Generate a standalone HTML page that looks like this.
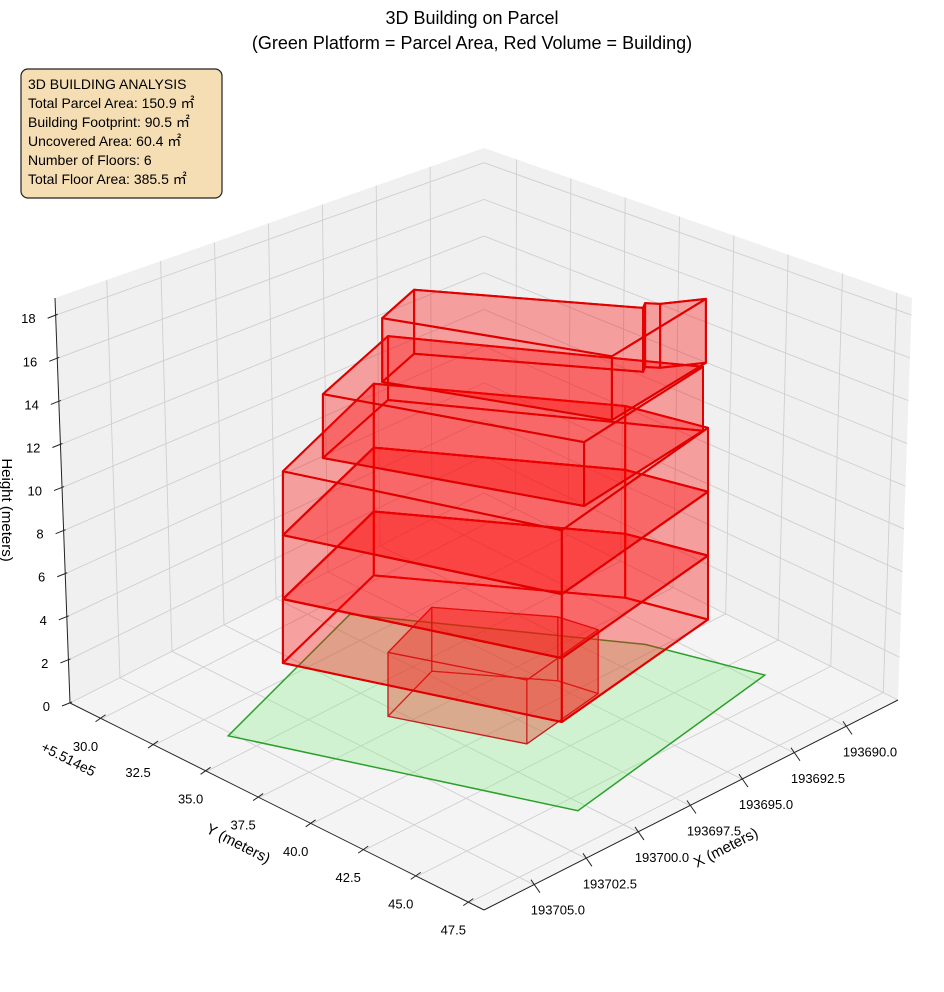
<!DOCTYPE html>
<html><head><meta charset="utf-8"><style>
html,body{margin:0;padding:0;background:#fff;}
svg{display:block;font-family:"Liberation Sans",sans-serif;}
</style></head><body>
<svg id="chart" width="944" height="992" viewBox="0 0 944 992" xmlns="http://www.w3.org/2000/svg">
<g id="panes"></g>
<g id="grid"></g>
<g id="axes"></g>
<g id="marks"></g>
<text x="472" y="24" text-anchor="middle" font-size="18">3D Building on Parcel</text>
<text x="472" y="49" text-anchor="middle" font-size="18">(Green Platform = Parcel Area, Red Volume = Building)</text>
<g>
<rect x="21" y="69" width="201" height="129" rx="7" fill="#f5deb3" stroke="#222" stroke-width="1.2"/>
<text font-size="14" fill="#000">
<tspan x="28" y="89">3D BUILDING ANALYSIS</tspan>
<tspan x="28" y="108">Total Parcel Area: 150.9 ㎡</tspan>
<tspan x="28" y="127">Building Footprint: 90.5 ㎡</tspan>
<tspan x="28" y="146">Uncovered Area: 60.4 ㎡</tspan>
<tspan x="28" y="165">Number of Floors: 6</tspan>
<tspan x="28" y="184">Total Floor Area: 385.5 ㎡</tspan>
</text>
</g>
<text x="0" y="0" font-size="15" transform="translate(728,852) rotate(-27)" text-anchor="middle">X (meters)</text>
<text x="0" y="0" font-size="15" transform="translate(236,848) rotate(27)" text-anchor="middle">Y (meters)</text>
<text x="0" y="0" font-size="15" transform="translate(2,510) rotate(90)" text-anchor="middle">Height (meters)</text>
<text x="0" y="0" font-size="14" transform="translate(40,750) rotate(27)">+5.514e5</text>
</svg>
<script>
// ---- data ----
const xTicks = [193690.0, 193692.5, 193695.0, 193697.5, 193700.0, 193702.5, 193705.0];
const yTicks = [30.0, 32.5, 35.0, 37.5, 40.0, 42.5, 45.0, 47.5];
const zTicks = [0, 2, 4, 6, 8, 10, 12, 14, 16, 18];
const parcelX = [193705.19, 193696.49, 193690.88, 193689.49, 193700.42];
const parcelY = [33.84, 31.02, 39.51, 43.83, 45.76];
const floor1X = [193700.45, 193697.25, 193694.70, 193694.35, 193698.45];
const floor1Y = [36.75, 35.67, 39.14, 40.71, 41.38];
const midX = [193703.46, 193697.11, 193692.18, 193691.24, 193699.62];
const midY = [34.73, 32.77, 39.85, 42.86, 44.20];
const floor5X = [193701.87, 193697.55, 193691.50, 193697.93];
const floor5Y = [35.06, 33.88, 42.88, 43.59];
const floor6X = [193699.88, 193697.77, 193693.17, 193692.89, 193692.57, 193691.24, 193696.22];
const floor6Y = [35.91, 35.34, 41.68, 41.50, 41.90, 42.76, 43.22];
const floorBase = [0, 3, 6, 9, 12, 15];
const floorTop = [3, 6, 9, 12, 15, 18];

// ---- axes geometry ----
const XMIN = 193687.5, XMAX = 193707.4, YMIN = 28.5, YMAX = 48.2, ZMAX = 18.8;
const B0=[484,493], L0=[70,703], R0=[898,700], F0=[484,910], BT=[484,148], LT=[55,298], RT=[912,298];
const NS='http://www.w3.org/2000/svg';
function lerp(p,q,t){return [p[0]+(q[0]-p[0])*t, p[1]+(q[1]-p[1])*t];}
function fx(x){return (x-XMIN)/(XMAX-XMIN);}
function fy(y){return (y-YMIN)/(YMAX-YMIN);}
function fz(z){return z/ZMAX;}
function proj(x,y,z){const a=fx(x), b=fy(y);
  return [B0[0]-414*a+414*b, B0[1]+210*a+207*b-21.3*z];}
function mk(tag,attrs,parent){const e=document.createElementNS(NS,tag);for(const k in attrs)e.setAttribute(k,attrs[k]);parent.appendChild(e);return e;}
function pts(arr){return arr.map(p=>p[0].toFixed(1)+','+p[1].toFixed(1)).join(' ');}

const panes=document.getElementById('panes'), grid=document.getElementById('grid'), axes=document.getElementById('axes'), marks=document.getElementById('marks');
let e;
e=mk('polygon',{points:pts([L0,B0,BT,LT]),fill:'#f0f0f0'},panes);


e=mk('polygon',{points:pts([B0,R0,RT,BT]),fill:'#f0f0f0'},panes);


e=mk('polygon',{points:pts([L0,B0,R0,F0]),fill:'#f4f4f4'},panes);



const gs={stroke:'#cfcfcf','stroke-width':0.9,fill:'none'};
function line(p,q,parent,st){return mk('line',Object.assign({x1:p[0],y1:p[1],x2:q[0],y2:q[1]},st),parent);}
xTicks.forEach(v=>{const t=fx(v);
  e=line(lerp(B0,L0,t),lerp(R0,F0,t),grid,gs);
  
  
  e=line(lerp(B0,L0,t),lerp(BT,LT,t),grid,gs);
  
  
});
yTicks.forEach(v=>{const t=fy(v);
  e=line(lerp(B0,R0,t),lerp(L0,F0,t),grid,gs);
  
  
  e=line(lerp(B0,R0,t),lerp(BT,RT,t),grid,gs);
  
  
});
zTicks.forEach(v=>{const t=fz(v);
  e=line(lerp(L0,LT,t),lerp(B0,BT,t),grid,gs);
  
  
  e=line(lerp(B0,BT,t),lerp(R0,RT,t),grid,gs);
  
  
});

const as={stroke:'#222','stroke-width':1};
e=line(R0,F0,axes,as);  
e=line(L0,F0,axes,as);  
e=line(L0,LT,axes,as);  

xTicks.forEach(v=>{const p=lerp(R0,F0,fx(v));
  e=line([p[0]-3,p[1]-5],[p[0]+6,p[1]+8],axes,as);
  
  
  e=mk('text',{x:p[0]+24,y:p[1]+30,'font-size':13,'text-anchor':'middle'},axes);
  e.textContent=v.toFixed(1);
  
  
});
yTicks.forEach(v=>{const p=lerp(L0,F0,fy(v));
  e=line([p[0]+4,p[1]-4],[p[0]-6,p[1]+3],axes,as);
  
  
  e=mk('text',{x:p[0]-16,y:p[1]+32,'font-size':13,'text-anchor':'middle'},axes);
  e.textContent=v.toFixed(1);
  
  
});
zTicks.forEach(v=>{const p=lerp(L0,LT,fz(v));
  e=line([p[0]+2,p[1]-1],[p[0]-8,p[1]+3],axes,as);
  
  
  e=mk('text',{x:p[0]-20,y:p[1]+8,'font-size':13,'text-anchor':'end'},axes);
  e.textContent=String(v);
  
  
});

e=mk('polygon',{points:pts(parcelX.map((x,i)=>proj(x,parcelY[i],0))),fill:'rgba(144,238,144,0.35)',stroke:'#2ca02c','stroke-width':1.5},marks);



const footX=[floor1X,midX,midX,midX,floor5X,floor6X];
const footY=[floor1Y,midY,midY,midY,floor5Y,floor6Y];
floorBase.forEach((z0,k)=>{
  const z1=floorTop[k], xs=footX[k], ys=footY[k];
  const g=mk('g',{},marks);
  
  
  const col=k===0?'#c82020':'#e00000', sw=k===0?1.2:2;
  const fill=k===0?'rgba(230,60,40,0.22)':'rgba(255,0,0,0.19)';
  const bot=xs.map((x,i)=>proj(x,ys[i],z0)), top=xs.map((x,i)=>proj(x,ys[i],z1));
  e=mk('polygon',{points:pts(bot),fill:fill,stroke:col,'stroke-width':sw,'stroke-linejoin':'round'},g);
  
  
  for(let i=0;i<xs.length;i++){const j=(i+1)%xs.length;
    e=mk('polygon',{points:pts([bot[i],bot[j],top[j],top[i]]),fill:fill,stroke:col,'stroke-width':sw,'stroke-linejoin':'round'},g);
    
    
  }
  e=mk('polygon',{points:pts(top),fill:fill,stroke:col,'stroke-width':sw,'stroke-linejoin':'round'},g);
  
  
});
</script>
</body></html>
